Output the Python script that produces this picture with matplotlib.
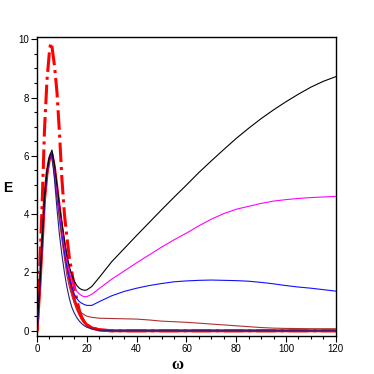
import matplotlib
matplotlib.use("Agg")
import matplotlib.pyplot as plt
from matplotlib.ticker import MultipleLocator

plt.rcParams['font.family'] = ['Liberation Sans', 'DejaVu Sans']

# common frequency grid for the long curves
w = [0, 1, 2, 3, 4, 5, 6, 7, 8, 9, 10, 11, 12, 13, 14, 15, 16, 17, 18, 19, 20,
     22, 25, 30, 35, 40, 45, 50, 55, 60, 65, 70, 75, 80, 85, 90, 95, 100, 105,
     110, 115, 120]

e_black = [0, 1.4, 3.0, 4.6, 5.5, 6.0, 6.2, 5.7, 5.0, 4.3, 3.7, 3.1, 2.6,
           2.2, 1.9, 1.7, 1.55, 1.46, 1.41, 1.39, 1.40, 1.52, 1.83, 2.37,
           2.82, 3.27, 3.71, 4.15, 4.58, 5.0, 5.43, 5.83, 6.22, 6.6, 6.95,
           7.28, 7.58, 7.86, 8.12, 8.36, 8.56, 8.72]
e_magenta = [0, 1.3, 2.9, 4.5, 5.4, 5.9, 6.0, 5.5, 4.8, 4.1, 3.5, 2.9, 2.4,
             2.0, 1.7, 1.5, 1.35, 1.26, 1.2, 1.17, 1.17, 1.25, 1.45, 1.77,
             2.05, 2.33, 2.6, 2.87, 3.12, 3.35, 3.6, 3.83, 4.02, 4.17, 4.27,
             4.37, 4.45, 4.5, 4.54, 4.57, 4.59, 4.61]
e_blue = [0, 1.35, 2.95, 4.55, 5.45, 5.95, 6.1, 5.5, 4.7, 4.0, 3.35, 2.7, 2.2,
          1.8, 1.5, 1.25, 1.1, 1.0, 0.94, 0.9, 0.87, 0.87, 1.0, 1.2, 1.35,
          1.46, 1.55, 1.62, 1.68, 1.71, 1.73, 1.74, 1.73, 1.72, 1.70, 1.66,
          1.61, 1.55, 1.50, 1.46, 1.41, 1.36]
e_brown = [0, 1.3, 2.9, 4.5, 5.4, 5.9, 6.0, 5.4, 4.6, 3.8, 3.1, 2.5, 1.9,
           1.5, 1.2, 0.95, 0.8, 0.68, 0.6, 0.55, 0.5, 0.46, 0.43, 0.42, 0.41,
           0.40, 0.37, 0.33, 0.31, 0.29, 0.26, 0.23, 0.2, 0.17, 0.14, 0.11,
           0.09, 0.08, 0.075, 0.07, 0.07, 0.07]

# curves that die out after the peak
w_short = [0, 1, 2, 3, 4, 5, 5.5, 6, 7, 8, 9, 10, 11, 12, 13, 14, 15, 16, 17,
           18, 19, 20, 22, 25, 30, 120]
e_navy = [0, 1.3, 2.9, 4.5, 5.4, 5.9, 5.95, 6.0, 5.2, 4.2, 3.3, 2.6, 2.0,
          1.5, 1.1, 0.8, 0.6, 0.45, 0.33, 0.24, 0.17, 0.12, 0.06, 0.02, 0, 0]
e_red = [0, 1.3, 2.9, 4.5, 5.4, 5.9, 6.0, 6.05, 5.6, 4.9, 4.2, 3.5, 2.9,
         2.3, 1.8, 1.4, 1.05, 0.8, 0.6, 0.43, 0.3, 0.2, 0.1, 0.03, 0, 0]
e_dashdot = [0, 2.0, 4.2, 6.9, 8.6, 9.6, 9.88, 9.75, 9.1, 8.2, 6.8, 5.2, 4.0,
             3.2, 2.5, 2.0, 1.5, 1.05, 0.7, 0.45, 0.3, 0.2, 0.1, 0.03, 0, 0]


def main():
    fig = plt.figure(figsize=(3.74, 3.74), dpi=100)
    ax = fig.add_axes([0.099, 0.1016, 0.799, 0.7987])

    ax.plot(w_short, e_red, color='#ff0000', lw=2.2, zorder=2)
    ax.plot(w_short, e_dashdot, color='#ff0000', lw=2.2, ls='-.', zorder=2)
    ax.plot(w, e_brown, color='#b03030', lw=0.8, zorder=3)
    ax.plot(w, e_blue, color='#1010ff', lw=0.8, zorder=3)
    ax.plot(w, e_magenta, color='#ff00ff', lw=0.8, zorder=3)
    ax.plot(w_short, e_navy, color='#202080', lw=0.8, zorder=4)
    ax.plot(w, e_black, color='black', lw=0.8, zorder=4)

    ax.set_xlim(0, 120)
    ax.set_ylim(-0.18, 10.07)
    ax.xaxis.set_major_locator(MultipleLocator(20))
    ax.xaxis.set_minor_locator(MultipleLocator(5))
    ax.yaxis.set_major_locator(MultipleLocator(2))
    ax.yaxis.set_minor_locator(MultipleLocator(0.5))
    ax.tick_params(which='major', direction='out', length=4, width=0.8,
                   labelsize=7, pad=2)
    ax.tick_params(which='minor', direction='out', length=2.5, width=0.8)
    for s in ax.spines.values():
        s.set_linewidth(1.0)

    fig.text(8 / 374, 1 - 188 / 374, 'E', fontsize=10, fontweight='bold',
             ha='center', va='center')
    fig.text(177 / 374, 1 - 365 / 374, 'ω', fontsize=12, fontweight='bold',
             family=['Liberation Serif', 'DejaVu Serif'],
             ha='center', va='center')

    fig.savefig('out.png', dpi=100)


main()
